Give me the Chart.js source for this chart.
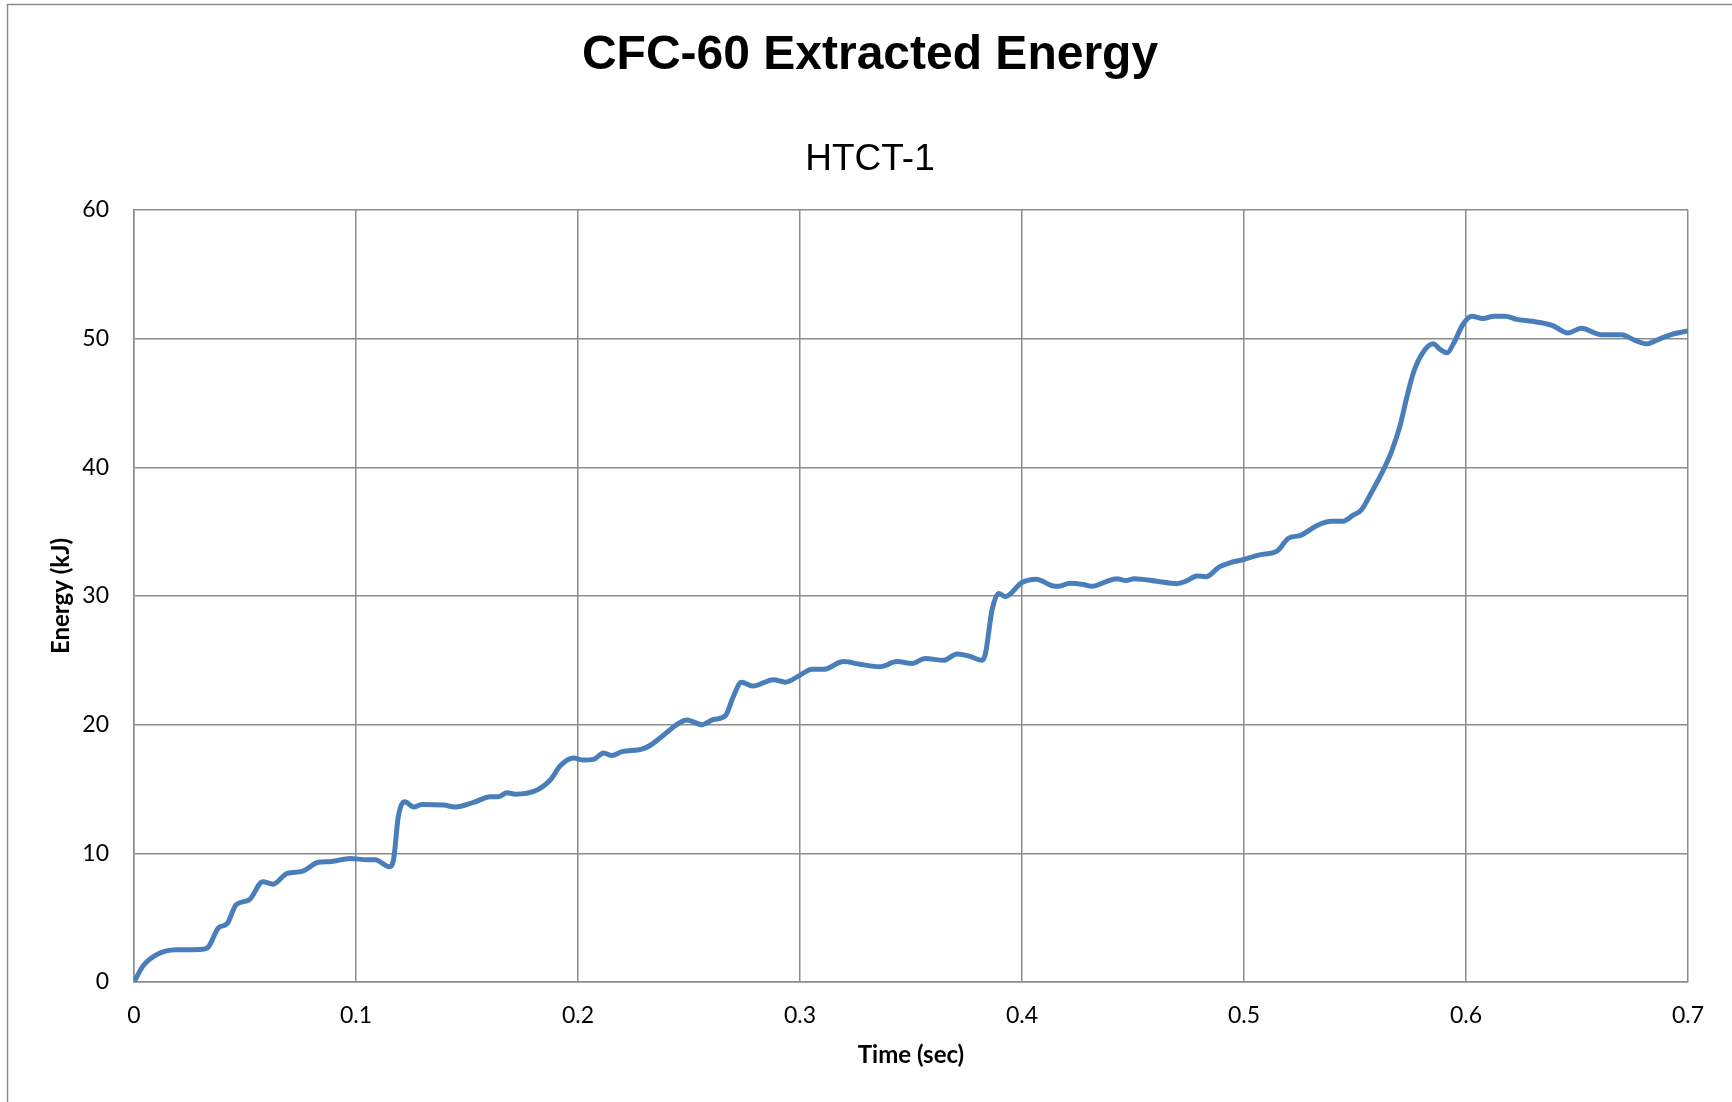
<!DOCTYPE html>
<html lang="en">
  <head>
    <meta charset="UTF-8" />
    <script src="https://cdn.jsdelivr.net/npm/chart.js@4.4.1/dist/chart.umd.min.js"></script>
    <title>CFC-60 Extracted Energy</title>
    <style>
      body { margin: 0; background: #fff; }
    </style>
  </head>
  <body>
    <canvas id="myChart" width="1732" height="1102"></canvas>

    <script>
      // values
      const timeSec = [
        0, 0.0043, 0.011, 0.019, 0.031, 0.0336, 0.038, 0.042, 0.046, 0.052,
        0.058, 0.0626, 0.069, 0.0757, 0.083, 0.088, 0.0974, 0.105, 0.1087, 0.115,
        0.117, 0.119, 0.122, 0.126, 0.1297, 0.1395, 0.1447, 0.153, 0.1605, 0.164,
        0.168, 0.1718, 0.1808, 0.1875, 0.192, 0.198, 0.2025, 0.207, 0.2115, 0.2153,
        0.2198, 0.2288, 0.2326, 0.2386, 0.2453, 0.249, 0.2559, 0.261, 0.2664, 0.27,
        0.2736, 0.279, 0.288, 0.2934, 0.3, 0.3054, 0.3106, 0.3196, 0.327, 0.336,
        0.3437, 0.3505, 0.3564, 0.3647, 0.3707, 0.3767, 0.382, 0.3835, 0.3865, 0.3895,
        0.3925, 0.4, 0.4064, 0.4135, 0.4165, 0.4215, 0.4276, 0.4316, 0.4376, 0.4427,
        0.4467, 0.4507, 0.4608, 0.4698, 0.4738, 0.4789, 0.4829, 0.4889, 0.494, 0.499,
        0.507, 0.515, 0.5201, 0.5252, 0.5332, 0.5392, 0.5443, 0.5493, 0.5529, 0.5573,
        0.5624, 0.5664, 0.5704, 0.5734, 0.5765, 0.5805, 0.5851, 0.5885, 0.5915, 0.5946,
        0.5986, 0.6026, 0.6076, 0.6127, 0.6177, 0.6227, 0.6298, 0.6388, 0.6459, 0.6519,
        0.661, 0.67, 0.6761, 0.6811, 0.6881, 0.6942, 0.7
      ];
      const energyKJ = [
        0, 1.3, 2.2, 2.5, 2.55, 2.75, 4.2, 4.55, 6.0, 6.4,
        7.8, 7.6, 8.45, 8.6, 9.3, 9.35, 9.6, 9.5, 9.5, 8.96,
        9.6, 12.8, 14.0, 13.6, 13.8, 13.75, 13.6, 13.96, 14.4, 14.4,
        14.7, 14.6, 14.86, 15.7, 16.8, 17.4, 17.25, 17.3, 17.8, 17.6,
        17.9, 18.1, 18.4, 19.2, 20.1, 20.36, 20.0, 20.4, 20.7, 22.2,
        23.3, 23.0, 23.5, 23.3, 23.85, 24.3, 24.3, 24.9, 24.7, 24.5,
        24.9, 24.76, 25.15, 25.0, 25.5, 25.3, 25.0, 25.5, 28.9, 30.2,
        29.95, 31.05, 31.3, 30.8, 30.75, 31.0, 30.9, 30.75, 31.1, 31.35,
        31.2, 31.35, 31.15, 30.96, 31.15, 31.56, 31.5, 32.26, 32.6, 32.8,
        33.2, 33.5, 34.5, 34.7, 35.5, 35.8, 35.8, 36.3, 36.7, 38.0,
        39.66, 41.2, 43.3, 45.5, 47.45, 48.9, 49.6, 49.14, 48.9, 49.7,
        51.1, 51.74, 51.56, 51.74, 51.74, 51.5, 51.35, 51.04, 50.45, 50.8,
        50.3, 50.3, 49.87, 49.6, 50.05, 50.4, 50.6
      ];
      const xTicks = [0, 0.1, 0.2, 0.3, 0.4, 0.5, 0.6, 0.7];
      const yTicks = [0, 10, 20, 30, 40, 50, 60];

      const points = timeSec.map((t, i) => ({ x: t, y: energyKJ[i] }));

      const gridColor = "#8c8c8c";

      // thin frame round the chart (only top and left edges show)
      const framePlugin = {
        id: "frame",
        beforeDraw(chart) {
          const ctx = chart.ctx;
          ctx.save();
          ctx.fillStyle = "#fff";
          ctx.fillRect(0, 0, chart.width, chart.height);
          ctx.strokeStyle = gridColor;
          ctx.lineWidth = 1.5;
          ctx.beginPath();
          ctx.moveTo(7.5, chart.height);
          ctx.lineTo(7.5, 4.5);
          ctx.lineTo(chart.width, 4.5);
          ctx.stroke();
          ctx.restore();
        }
      };

      const ctx = document.getElementById("myChart").getContext("2d");
      const chart = new Chart(ctx, {
        type: "line",
        data: {
          datasets: [
            {
              label: "HTCT-1",
              data: points,
              borderColor: "#4a7ebb",
              borderWidth: 5,
              pointRadius: 0,
              fill: false,
              cubicInterpolationMode: "monotone"
            }
          ]
        },
        options: {
          responsive: false,
          animation: false,
          layout: { padding: { top: 0, left: 52, right: 44, bottom: 0 } },
          plugins: {
            legend: { display: false },
            tooltip: { enabled: false },
            title: {
              display: true,
              text: "CFC-60 Extracted Energy",
              color: "#000",
              font: { family: "'Liberation Sans', Arial, sans-serif", size: 48, weight: "bold" },
              padding: { top: 27, bottom: 0 }
            },
            subtitle: {
              display: true,
              text: "HTCT-1",
              color: "#000",
              font: { family: "'Liberation Sans', Arial, sans-serif", size: 37, weight: "normal" },
              padding: { top: 53, bottom: 28 }
            }
          },
          scales: {
            x: {
              type: "linear",
              min: 0,
              max: 0.7,
              afterBuildTicks: (scale) => {
                scale.ticks = xTicks.map(v => ({ value: v }));
              },
              afterFit: (scale) => { scale.height = 120; },
              grid: { color: gridColor, lineWidth: 1.5, drawTicks: false },
              border: { color: gridColor, width: 1.5 },
              ticks: {
                color: "#000",
                padding: 20,
                maxRotation: 0,
                font: { family: "Lato, sans-serif", size: 23 },
                callback: (v) => String(v)
              },
              title: {
                display: true,
                text: "Time (sec)",
                color: "#000",
                font: { family: "Lato, sans-serif", size: 24, weight: "bold" },
                padding: { top: 0, bottom: 32 }
              }
            },
            y: {
              min: 0,
              max: 60,
              afterBuildTicks: (scale) => {
                scale.ticks = yTicks.map(v => ({ value: v }));
              },
              afterFit: (scale) => { scale.width = 82; },
              grid: { color: gridColor, lineWidth: 1.5, drawTicks: false },
              border: { color: gridColor, width: 1.5 },
              ticks: {
                color: "#000",
                padding: 25,
                font: { family: "Lato, sans-serif", size: 23 }
              },
              title: {
                display: true,
                text: "Energy (kJ)",
                color: "#000",
                font: { family: "Lato, sans-serif", size: 24, weight: "bold" },
                padding: { top: -5.5, bottom: 0 }
              }
            }
          }
        },
        plugins: [framePlugin]
      });
    </script>
  </body>
</html>
